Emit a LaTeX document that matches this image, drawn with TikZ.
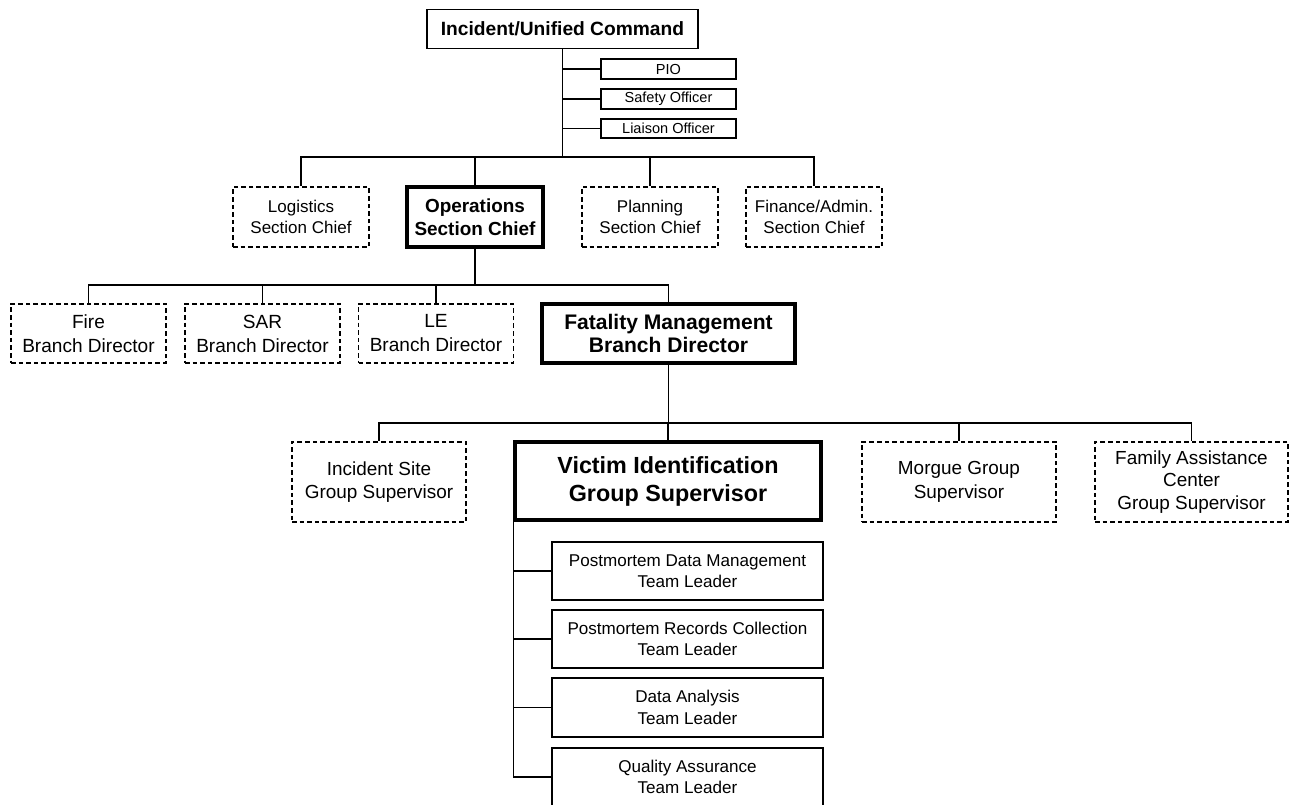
\documentclass[tikz,border=0pt]{standalone}
\usepackage{fontspec}
\setmainfont{Liberation Sans}

\begin{document}
\begin{tikzpicture}[
  x=0.75pt, y=-0.75pt,
  box/.style={draw, line width=1.2pt, inner sep=0pt, align=center,
              font=\fontsize{14.2}{17.5}\selectfont},
  dbox/.style={box, dash pattern=on 3.5pt off 2.2pt},
  hero/.style={box, line width=2.3pt},
  staff/.style={box, minimum width=101.25pt, minimum height=15pt,
                font=\fontsize{10.9}{13}\selectfont},
  sect/.style={minimum width=102pt, minimum height=45pt},
  branch/.style={minimum width=116.25pt, minimum height=44.25pt,
                 font=\fontsize{14.3}{18}\selectfont},
  team/.style={box, minimum width=203.25pt, minimum height=43.5pt,
               font=\fontsize{12.8}{16}\selectfont},
  link/.style={line width=1.2pt}
]
\useasboundingbox (0,0) rectangle (1289,804);
\clip (0,0) rectangle (1289,804);

\node[box, minimum width=203.25pt, minimum height=29.25pt,
      font=\bfseries\fontsize{14.4}{17}\selectfont] (ic) at (562.5,29) {Incident/Unified Command};
\node[staff] (pio) at (668.5,69) {PIO};
\node[staff] (safety) at (668.5,99) {Safety Officer};
\node[staff, minimum height=14.25pt] (liaison) at (668.5,128.5) {Liaison Officer};

\node[dbox, sect, font=\fontsize{12.75}{15.5}\selectfont] (log) at (301,217) {Logistics\\Section Chief};
\node[hero, sect, font=\bfseries\fontsize{14.2}{17.5}\selectfont] (ops) at (475,217) {Operations\\Section Chief};
\node[dbox, sect, font=\fontsize{12.75}{15.5}\selectfont] (plan) at (650,217) {Planning\\Section Chief};
\node[dbox, sect, font=\fontsize{12.75}{15.5}\selectfont] (fin) at (814,217) {Finance/Admin.\\Section Chief};

\node[dbox, branch] (fire) at (88.5,333.5) {Fire\\Branch Director};
\node[dbox, branch] (sar) at (262.5,333.5) {SAR\\Branch Director};
\node[dbox, branch] (le) at (436,333.5) {LE\\Branch Director};
\node[hero, branch, minimum width=189.75pt,
      font=\bfseries\fontsize{15.8}{16.8}\selectfont] (fm) at (668.5,333.5) {Fatality Management\\Branch Director};

\node[dbox, minimum width=130.5pt, minimum height=60pt] (isg) at (379,482) {Incident Site\\Group Supervisor};
\node[hero, minimum width=229.5pt, minimum height=58.5pt,
      font=\bfseries\fontsize{17.5}{21}\selectfont] (vig) at (668,481) {Victim Identification\\Group Supervisor};
\node[dbox, minimum width=145.5pt, minimum height=60pt] (morgue) at (959,482) {Morgue Group\\Supervisor};
\node[dbox, minimum width=144.75pt, minimum height=60pt,
      font=\fontsize{14.2}{16.9}\selectfont] (fac) at (1191.5,482) {Family Assistance\\Center\\Group Supervisor};

\node[team] (t1) at (687.5,571) {Postmortem Data Management\\Team Leader};
\node[team] (t2) at (687.5,639) {Postmortem Records Collection\\Team Leader};
\node[team, minimum height=44.25pt] (t3) at (687.5,707.5) {Data Analysis\\Team Leader};
\node[team] (t4) at (687.5,777) {Quality Assurance\\Team Leader};

\coordinate (cbus) at (562.5,157);
\draw[link] (ic.south) -- (cbus);
\foreach \n in {pio,safety,liaison}
  \draw[link] (\n.west) -- (\n.west -| cbus);
\draw[link] (log.north) |- (cbus) -| (fin.north);
\foreach \n in {ops,plan}
  \draw[link] (\n.north) -- (\n.north |- cbus);

\coordinate (obus) at (475,285);
\draw[link] (ops.south) -- (obus);
\draw[link] (fire.north) |- (obus) -| (fm.north);
\foreach \n in {sar,le}
  \draw[link] (\n.north) -- (\n.north |- obus);

\coordinate (fbus) at (668.5,423);
\draw[link] (fm.south) -- (fbus);
\draw[link] (isg.north) |- (fbus) -| (fac.north);
\foreach \n in {vig,morgue}
  \draw[link] (\n.north) -- (\n.north |- fbus);

\draw[link] (vig.south west) -- (vig.south west |- t4.west);
\foreach \n in {t1,t2,t3,t4}
  \draw[link] (\n.west) -- (\n.west -| vig.south west);
\end{tikzpicture}
\end{document}
